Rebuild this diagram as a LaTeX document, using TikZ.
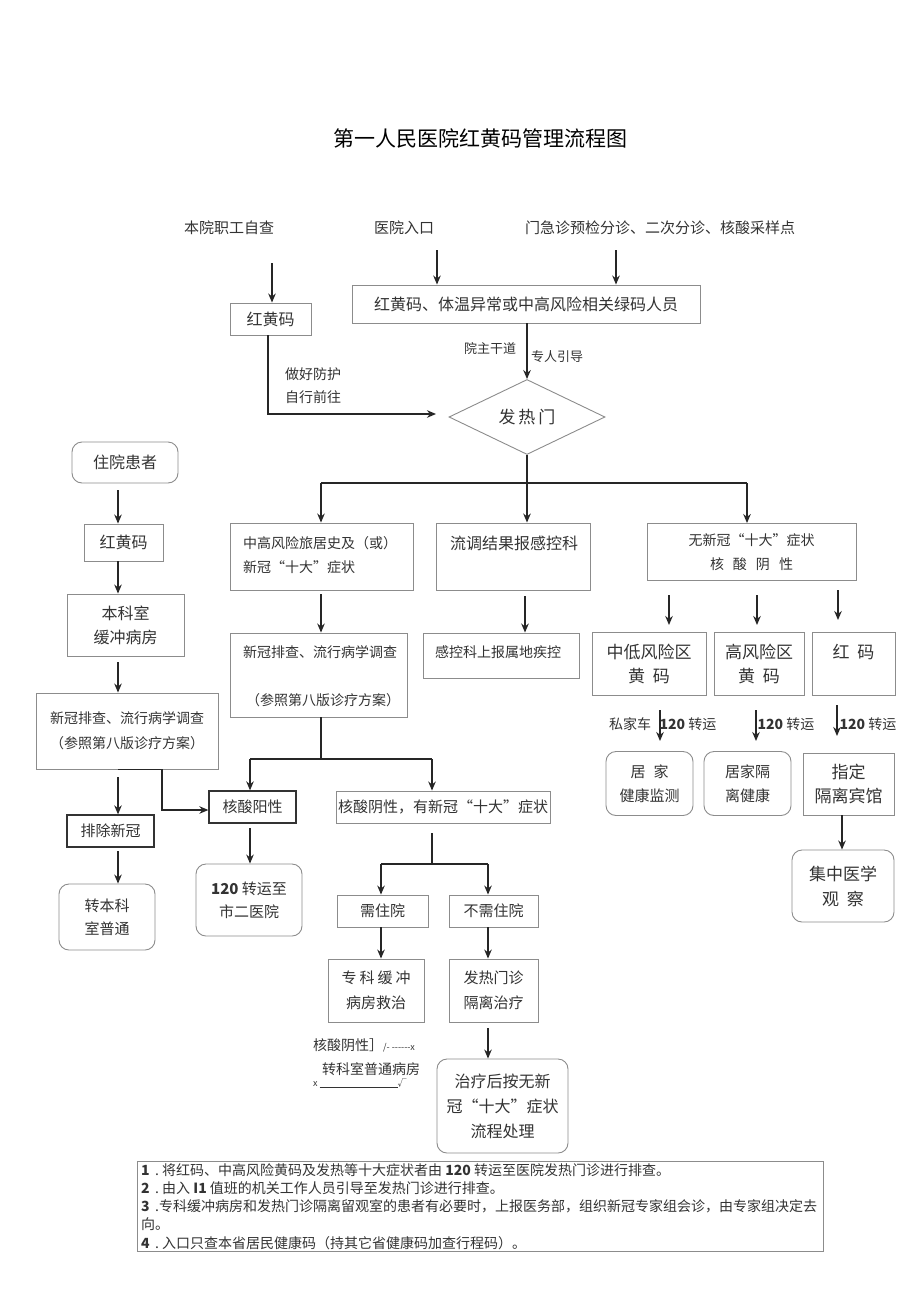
\documentclass[tikz,border=0pt]{standalone}
\usepackage{fontspec}
\setmainfont{Noto Sans CJK SC}
\usetikzlibrary{arrows.meta,shapes.geometric,calc}
\definecolor{bord}{HTML}{8C8C8C}
\definecolor{txt}{HTML}{333333}
\newcommand\fz[2]{\fontsize{#1}{#2}\selectfont}
\begin{document}
\begin{tikzpicture}[x=1pt,y=-1pt,
  box/.style={draw=bord, line width=0.9pt, inner sep=0pt, text=txt, align=center},
  dbox/.style={box, draw=black!80, line width=1.3pt},
  rbox/.style={box, rounded corners=10pt},
  arr/.style={-{Stealth[length=9pt,width=7.5pt]}, line width=1.4pt, black!85},
  ln/.style={line width=1.4pt, black!85},
  lab/.style={text=txt, inner sep=0pt, align=center}]
\useasboundingbox[fill=white] (0,0) rectangle (920,1301);

% title
\node[inner sep=0pt, font=\fz{21}{24}] (title) at (480,138) {第一人民医院红黄码管理流程图};

% top labels
\node[lab, font=\fz{15}{18}] (t1) at (229,228) {本院职工自查};
\node[lab, font=\fz{15}{18}] (t2) at (404,228) {医院入口};
\node[lab, font=\fz{15}{18}] (t3) at (660,228) {门急诊预检分诊、二次分诊、核酸采样点};
\coordinate (c1) at (272,263);
\coordinate (c2) at (437,250);
\coordinate (c3) at (616,250);

% top boxes
\node[box, minimum width=81, minimum height=32, font=\fz{16}{20}] (A1) at (270.5,319) {红黄码};
\node[box, minimum width=348, minimum height=38, font=\fz{16}{20}] (BB) at (526,304) {红黄码、体温异常或中高风险相关绿码人员};
\draw[arr] (c1) -- (c1 |- A1.north);
\draw[arr] (c2) -- (c2 |- BB.north);
\draw[arr] (c3) -- (c3 |- BB.north);

% diamond
\node[draw=bord, line width=0.9pt, diamond, aspect=2.08, minimum width=156, minimum height=75, inner sep=0pt, text=txt, font=\fz{17}{20}] (D) at (527,417) {发\hspace{3pt}热\hspace{3pt}门};
\draw[arr] (BB.south -| D.north) -- (D.north);
\node[lab, font=\fz{13}{16}] (l1) at (490,348) {院主干道};
\node[lab, font=\fz{13}{16}] (l2) at (557,357) {专人引导};
\coordinate (c4) at (436,414);
\draw[arr] (A1.south -| 268,0) |- (c4);
\node[lab, font=\fz{14}{16}] (l3) at (313,374) {做好防护};
\node[lab, font=\fz{14}{16}] (l4) at (313,397) {自行前往};

% second row
\node[box, minimum width=183, minimum height=67] (B1) at (321.5,556.5) {};
\node[lab, anchor=west, font=\fz{14}{16}] (B1a) at (243,543) {中高风险旅居史及（或）};
\node[lab, anchor=west, font=\fz{14}{16}] (B1b) at (243,567) {新冠“十大”症状};
\node[box, minimum width=154, minimum height=67] (B2) at (513,556.5) {};
\node[lab, anchor=west, font=\fz{16}{18}] (B2a) at (450,543) {流调结果报感控科};
\node[box, minimum width=209, minimum height=57, font=\fz{14}{24}] (B3) at (751.5,552) {无新冠“十大”症状\\核\hspace{9pt}酸\hspace{9pt}阴\hspace{9pt}性};
\coordinate (j0) at (527,483);
\draw[ln] (D.south) -- (j0);
\draw[ln] (321,483) -- (747,483);
\draw[arr] (321,483) -- (321,0 |- B1.north);
\draw[arr] (j0) -- (j0 |- B2.north);
\draw[arr] (747,483) -- (747,0 |- B3.north);

% third row
\node[box, minimum width=177, minimum height=84] (C1) at (318.5,675) {};
\node[lab, anchor=west, font=\fz{14}{16}] (C1a) at (243,652) {新冠排查、流行病学调查};
\node[lab, anchor=west, font=\fz{14}{16}] (C1b) at (246,700) {（参照第八版诊疗方案）};
\node[box, minimum width=156, minimum height=45] (C2) at (501,655.5) {};
\node[lab, anchor=west, font=\fz{14}{16}] (C2a) at (435,652) {感控科上报属地疾控};
\draw[arr] (321,594) -- (321,0 |- C1.north);
\draw[arr] (525,596) -- (525,0 |- C2.north);

\node[box, minimum width=114, minimum height=63, font=\fz{17}{24}] (D1) at (649,663.5) {中低风险区\\黄\hspace{8pt}码};
\node[box, minimum width=90, minimum height=63, font=\fz{17}{24}] (D2) at (759,663.5) {高风险区\\黄\hspace{8pt}码};
\node[box, minimum width=83, minimum height=63] (D3) at (853.5,663.5) {};
\node[lab, font=\fz{17}{20}] (D3a) at (853.5,652) {红\hspace{8pt}码};
\draw[arr] (669,595) -- (669,625);
\draw[arr] (757,595) -- (757,625);
\draw[arr] (838,590) -- (838,620);

% fourth row right
\draw[arr] (660,710) -- (660,741);
\draw[arr] (756,710) -- (756,741);
\draw[arr] (837,705) -- (837,736);
\node[lab, font=\fz{14}{16}] (m1) at (630,724) {私家车};
\node[lab, font=\fz{14}{16}] (m2) at (688,724) {\textbf{120} 转运};
\node[lab, font=\fz{14}{16}] (m3) at (786,724) {\textbf{120} 转运};
\node[lab, font=\fz{14}{16}] (m4) at (868,724) {\textbf{120} 转运};
\node[rbox, minimum width=87, minimum height=64, font=\fz{15}{24}] (E1) at (649.5,783.5) {居\hspace{8pt}家\\健康监测};
\node[rbox, minimum width=87, minimum height=64, font=\fz{15}{24}] (E2) at (747.5,783.5) {居家隔\\离健康};
\node[box, minimum width=91, minimum height=62, font=\fz{17}{24}] (E3) at (848.5,784) {指定\\隔离宾馆};
\node[rbox, minimum width=102, minimum height=72, font=\fz{17}{25}] (F3) at (843,886) {集中医学\\观\hspace{8pt}察};
\draw[arr] (842,0 |- E3.south) -- (842,0 |- F3.north);

% left column
\node[rbox, minimum width=106, minimum height=41, font=\fz{16}{20}] (L1) at (125,462.5) {住院患者};
\node[box, minimum width=79, minimum height=37, font=\fz{16}{20}] (L2) at (123.5,542.5) {红黄码};
\node[box, minimum width=117, minimum height=62, font=\fz{16}{24}] (L3) at (125.5,625) {本科室\\缓冲病房};
\node[box, minimum width=182, minimum height=76, font=\fz{14}{25}] (L4) at (127,731) {新冠排查、流行病学调查\\（参照第八版诊疗方案）};
\draw[arr] (118,490) -- (118,0 |- L2.north);
\draw[arr] (118,0 |- L2.south) -- (118,0 |- L3.north);
\draw[arr] (118,662) -- (118,0 |- L4.north);
\node[dbox, minimum width=87, minimum height=32, font=\fz{15}{18}] (X1) at (110.5,831) {排除新冠};
\node[dbox, minimum width=87, minimum height=32, font=\fz{15}{18}] (X2) at (252.5,807) {核酸阳性};
\draw[arr] (118,777) -- (118,0 |- X1.north);
\draw[arr] (118,0 |- L4.south) -- (162,0 |- L4.south) -- (162,810) -- (X2.west |- 0,810);
\node[rbox, minimum width=96, minimum height=66, font=\fz{15}{23}] (Y1) at (107,917) {转本科\\室普通};
\node[rbox, minimum width=106, minimum height=72, font=\fz{15}{23}] (Y2) at (249,900) {\textbf{120} 转运至\\市二医院};
\draw[arr] (118,851) -- (118,0 |- Y1.north);
\draw[arr] (250,828) -- (250,0 |- Y2.north);

% middle lower
\draw[ln] (C1.south -| 321,0) -- (321,759);
\draw[ln] (250,759) -- (432,759);
\draw[arr] (250,759) -- (250,0 |- X2.north);
\node[box, minimum width=214, minimum height=32, font=\fz{15}{18}] (M1) at (443,807) {核酸阴性，有新冠“十大”症状};
\draw[arr] (432,759) -- (432,0 |- M1.north);
\draw[ln] (432,833) -- (432,864);
\draw[ln] (381,864) -- (488,864);
\node[box, minimum width=91, minimum height=32, font=\fz{15}{18}] (N1) at (382.5,911) {需住院};
\node[box, minimum width=89, minimum height=32, font=\fz{15}{18}] (N2) at (493.5,911) {不需住院};
\draw[arr] (381,864) -- (381,0 |- N1.north);
\draw[arr] (488,864) -- (488,0 |- N2.north);
\node[box, minimum width=96, minimum height=63, font=\fz{15}{25}] (O1) at (376,990.5) {专\hspace{3pt}科\hspace{3pt}缓\hspace{3pt}冲\\病房救治};
\node[box, minimum width=89, minimum height=63, font=\fz{15}{25}] (O2) at (493.5,990.5) {发热门诊\\隔离治疗};
\draw[arr] (381,0 |- N1.south) -- (381,0 |- O1.north);
\draw[arr] (488,0 |- N2.south) -- (488,0 |- O2.north);
\node[rbox, minimum width=131, minimum height=94, font=\fz{16}{25}] (P1) at (502.5,1106) {治疗后按无新\\冠“十大”症状\\流程处理};
\draw[arr] (488,1028) -- (488,0 |- P1.north);
\node[lab, anchor=west, font=\fz{14}{16}] (q1) at (313,1045) {核酸阴性］{\fz{9}{10}/- -{}-{}-{}-{}-{}-x}};
\node[lab, anchor=west, font=\fz{14}{16}] (q2) at (322,1069) {转科室普通病房};
\node[lab, anchor=west, font=\fz{9}{10}] (q3) at (313,1083) {x \rule[-1pt]{78pt}{0.5pt}√};

% notes
\node[draw=bord, line width=0.9pt, minimum width=686, minimum height=90, inner sep=0pt] (NB) at (480,1206) {};
\node[anchor=north west, inner sep=0pt, align=left, text=txt, font=\fz{14}{18.3}] (NT) at (141,1163) {%
\makebox[14pt][l]{\textbf{1}}.\ 将红码、中高风险黄码及发热等十大症状者由 \textbf{120} 转运至医院发热门诊进行排查。\\
\makebox[14pt][l]{\textbf{2}}.\ 由入 \textbf{I1} 值班的机关工作人员引导至发热门诊进行排查。\\
\makebox[14pt][l]{\textbf{3}}.专科缓冲病房和发热门诊隔离留观室的患者有必要时，上报医务部，组织新冠专家组会诊，由专家组决定去\\
向。\\
\makebox[14pt][l]{\textbf{4}}.\ 入口只查本省居民健康码（持其它省健康码加查行程码）。};
\end{tikzpicture}
\end{document}
